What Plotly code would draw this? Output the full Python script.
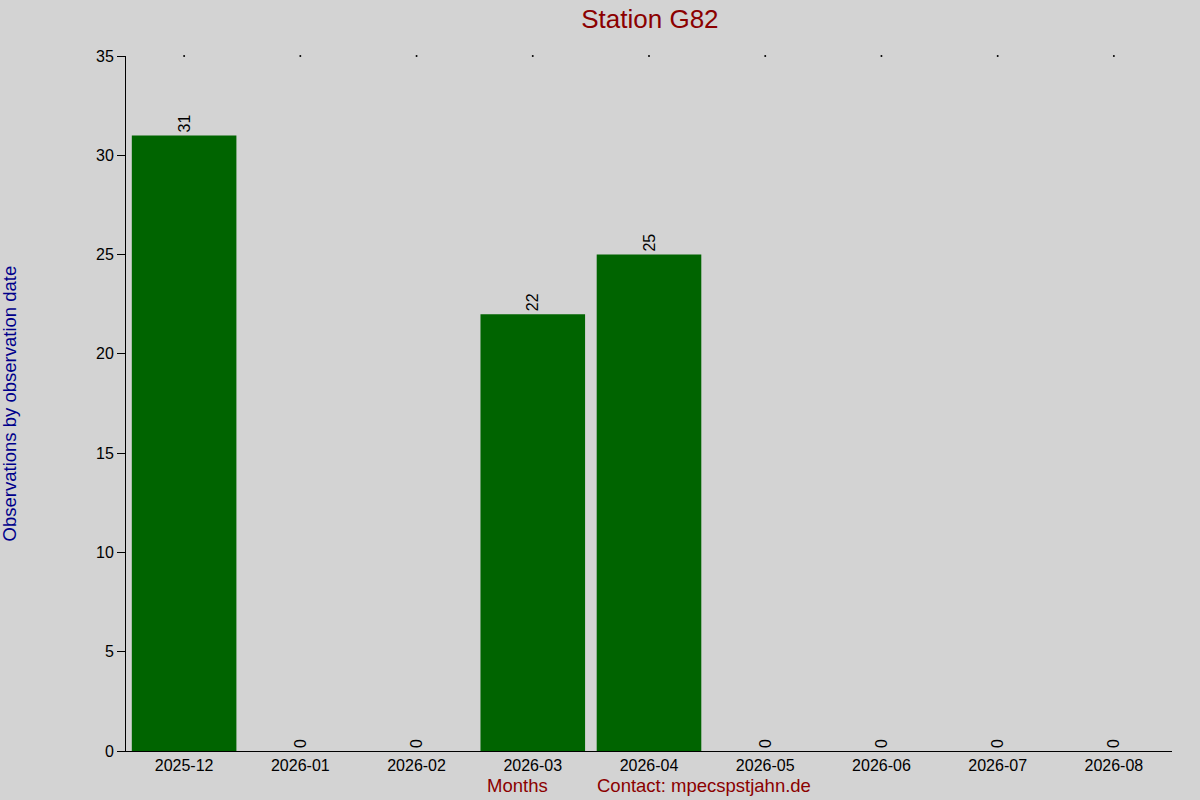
import plotly.graph_objects as go

months = ["2025-12", "2026-01", "2026-02", "2026-03", "2026-04",
          "2026-05", "2026-06", "2026-07", "2026-08"]
counts = [31, 0, 0, 22, 25, 0, 0, 0, 0]
y_ticks = [0, 5, 10, 15, 20, 25, 30, 35]

font = "Liberation Sans, Arial, sans-serif"

fig = go.Figure()

fig.add_trace(
    go.Bar(
        x=months,
        y=counts,
        width=0.9,
        marker=dict(color="#006400", line=dict(width=0)),
        text=[str(c) for c in counts],
        textposition="outside",
        textangle=-90,
        textfont=dict(family=font, size=16, color="black"),
        cliponaxis=False,
        showlegend=False,
    )
)

# small dot ticks along the top edge
fig.add_trace(
    go.Scatter(
        x=months,
        y=[35] * len(months),
        mode="markers",
        marker=dict(color="black", size=2),
        cliponaxis=False,
        showlegend=False,
        hoverinfo="skip",
    )
)

fig.update_layout(
    width=1200,
    height=800,
    paper_bgcolor="#d3d3d3",
    plot_bgcolor="#d3d3d3",
    margin=dict(l=126, r=28, t=56, b=49),
    font=dict(family=font, size=16, color="black"),
    title=dict(
        text="Station G82",
        x=0.5416,
        xanchor="center",
        y=0.977,
        yanchor="middle",
        font=dict(family=font, size=26, color="#8b0000"),
    ),
    bargap=0.1,
)

fig.update_xaxes(
    type="category",
    showline=True,
    linecolor="black",
    linewidth=1,
    ticks="",
    showgrid=False,
    tickfont=dict(size=16),
)

fig.update_yaxes(
    range=[0, 35],
    tickvals=y_ticks,
    showline=True,
    linecolor="black",
    linewidth=1,
    ticks="outside",
    ticklen=8,
    tickcolor="black",
    showgrid=False,
    zeroline=False,
    tickfont=dict(size=16),
)

fig.add_annotation(
    text="Observations by observation date",
    xref="paper", yref="paper",
    x=-0.111, y=0.5,
    xanchor="center", yanchor="middle",
    textangle=-90,
    showarrow=False,
    font=dict(family=font, size=18.5, color="#00008b"),
)
fig.add_annotation(
    text="Months",
    xref="paper", yref="paper",
    x=0.374, y=-0.05,
    xanchor="center", yanchor="middle",
    showarrow=False,
    font=dict(family=font, size=18.5, color="#8b0000"),
)
fig.add_annotation(
    text="Contact: mpecspstjahn.de",
    xref="paper", yref="paper",
    x=0.553, y=-0.05,
    xanchor="center", yanchor="middle",
    showarrow=False,
    font=dict(family=font, size=18.5, color="#8b0000"),
)

fig.write_html(
    "out.html",
    config={"displayModeBar": False},
    post_script="document.body.style.margin='0';",
)
